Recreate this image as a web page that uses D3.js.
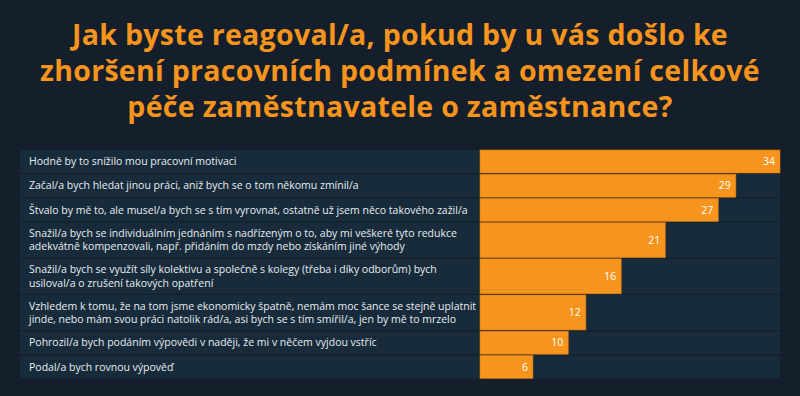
<!DOCTYPE html>
<html>
<head>
<meta charset="utf-8">
<script src="https://cdn.jsdelivr.net/npm/d3@7"></script>
<style>
  html, body { margin: 0; padding: 0; background: #141f2b; }
  svg { display: block; }
</style>
</head>
<body>
<div id="chart"></div>
<script>
// title lines
const titleLines = [
    "Jak byste reagoval/a, pokud by u vás došlo ke",
    "zhoršení pracovních podmínek a omezení celkové",
    "péče zaměstnavatele o zaměstnance?"
];

// answers, each split into its display lines
const answers = [
    ["Hodně by to snížilo mou pracovní motivaci"],
    ["Začal/a bych hledat jinou práci, aniž bych se o tom někomu zmínil/a"],
    ["Štvalo by mě to, ale musel/a bych se s tím vyrovnat, ostatně už jsem něco takového zažil/a"],
    ["Snažil/a bych se individuálním jednáním s nadřízeným o to, aby mi veškeré tyto redukce",
     "adekvátně kompenzovali, např. přidáním do mzdy nebo získáním jiné výhody"],
    ["Snažil/a bych se využít síly kolektivu a společně s kolegy (třeba i díky odborům) bych",
     "usiloval/a o zrušení takových opatření"],
    ["Vzhledem k tomu, že na tom jsme ekonomicky špatně, nemám moc šance se stejně uplatnit",
     "jinde, nebo mám svou práci natolik rád/a, asi bych se s tím smířil/a, jen by mě to mrzelo"],
    ["Pohrozil/a bych podáním výpovědi v naději, že mi v něčem vyjdou vstříc"],
    ["Podal/a bych rovnou výpověď"]
];

const values = [34, 29, 27, 21, 16, 12, 10, 6];

const width = 800,
      height = 396,
      panel = {left: 20, right: 780, top: 150},
      barLeft = 480,
      rowOne = 23,   // height of a one-line row
      rowTwo = 35,   // height of a two-line row
      gap = 1.2;

const orange = "#f7941d";
const font = "'Open Sans', sans-serif";

let svg = d3.select("#chart")
    .append("svg")
    .attr("width", width)
    .attr("height", height)
    .attr("viewBox", [0, 0, width, height]);

svg.append("rect")
    .attr("width", width)
    .attr("height", height)
    .attr("fill", "#141f2b");

// title
svg.append("g")
    .selectAll("text")
    .data(titleLines)
    .join("text")
    .attr("x", width / 2)
    .attr("y", (d, i) => 45 + i * 36)
    .attr("text-anchor", "middle")
    .attr("fill", orange)
    .attr("font-family", font)
    .attr("font-weight", 700)
    .attr("font-size", 28.5)
    .attr("letter-spacing", 0.3)
    .text(d => d);

// row layout: one-line rows are short, two-line rows tall
let rows = [];
let yPos = panel.top;
answers.forEach((lines, i) => {
    const h = lines.length > 1 ? rowTwo : rowOne;
    rows.push({lines: lines, value: values[i], y: yPos, h: h});
    yPos += h + gap;
});
const panelBottom = yPos - gap;

let x = d3.scaleLinear()
    .domain([0, d3.max(values)])
    .range([barLeft, panel.right]);

// panel background (shows through the gaps as separators)
svg.append("rect")
    .attr("x", panel.left)
    .attr("y", panel.top)
    .attr("width", panel.right - panel.left)
    .attr("height", panelBottom - panel.top)
    .attr("rx", 3)
    .attr("fill", "#12202c");

let row = svg.selectAll(".row")
    .data(rows)
    .join("g")
    .attr("class", "row")
    .attr("transform", d => `translate(0, ${d.y})`);

row.append("rect")
    .attr("x", panel.left)
    .attr("width", panel.right - panel.left)
    .attr("height", d => d.h)
    .attr("rx", (d, i) => (i === 0 || i === rows.length - 1) ? 3 : 0)
    .attr("fill", "#172b3b");

row.append("rect")
    .attr("x", barLeft)
    .attr("width", d => x(d.value) - barLeft)
    .attr("height", d => d.h)
    .attr("fill", orange)
    .attr("stroke", "#d07a12")
    .attr("stroke-width", 0.6);

row.append("text")
    .attr("x", 29)
    .attr("y", d => d.lines.length > 1 ? d.h / 2 - 6.5 : d.h / 2)
    .attr("fill", "#e8edf1")
    .attr("font-family", font)
    .attr("font-size", 10.5)
    .selectAll("tspan")
    .data(d => d.lines)
    .join("tspan")
    .attr("x", 29)
    .attr("dy", (d, i) => i === 0 ? "0.35em" : "1.25em")
    .text(d => d);

row.append("text")
    .attr("x", d => x(d.value) - 5)
    .attr("y", d => d.h / 2)
    .attr("dy", "0.35em")
    .attr("text-anchor", "end")
    .attr("fill", "#ffffff")
    .attr("font-family", font)
    .attr("font-size", 10.5)
    .text(d => d.value);
</script>
</body>
</html>
